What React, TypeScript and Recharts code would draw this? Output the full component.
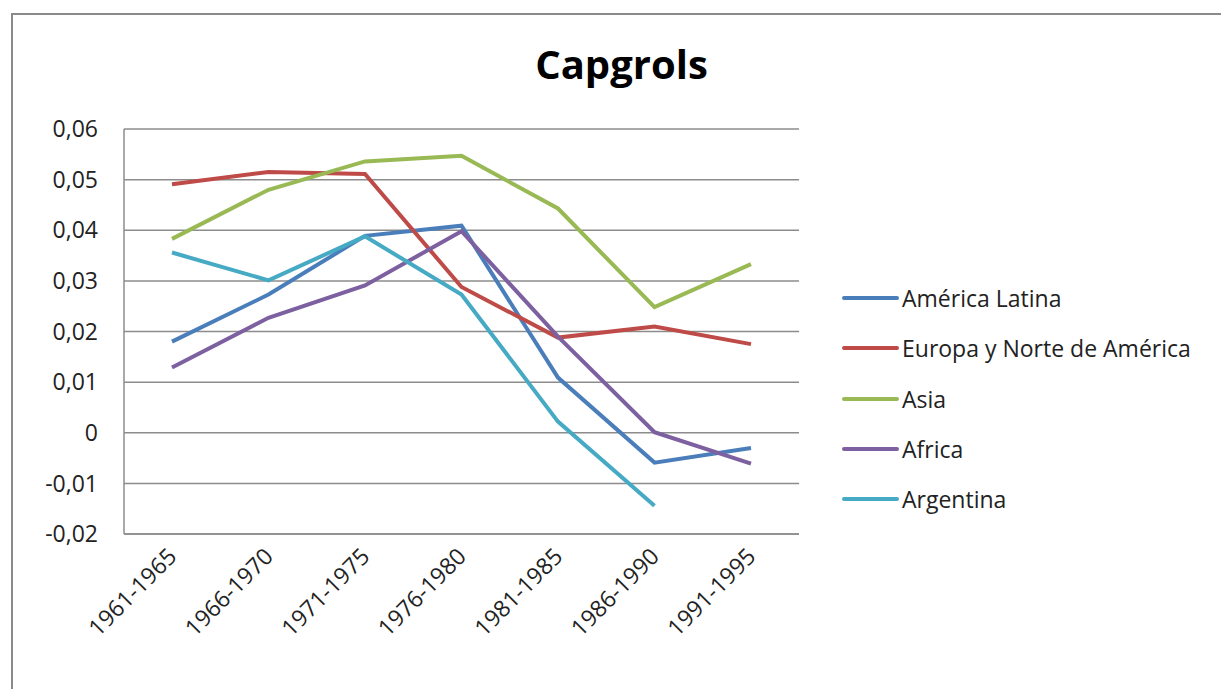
import { LineChart, Line, XAxis, YAxis, CartesianGrid } from 'recharts';

const periods = ['1961-1965', '1966-1970', '1971-1975', '1976-1980', '1981-1985', '1986-1990', '1991-1995'];

const americaLatina = [0.018, 0.0273, 0.0389, 0.0409, 0.0109, -0.0059, -0.003];
const europaNorteAmerica = [0.0491, 0.0515, 0.0511, 0.0288, 0.0188, 0.021, 0.0175];
const asia = [0.0383, 0.048, 0.0536, 0.0547, 0.0443, 0.0248, 0.0333];
const africa = [0.0129, 0.0227, 0.0291, 0.0398, 0.019, 0.0001, -0.0061];
const argentina = [0.0356, 0.0301, 0.0388, 0.0273, 0.0022, -0.0144, null];

const yTicks = [-0.02, -0.01, 0, 0.01, 0.02, 0.03, 0.04, 0.05, 0.06];

const series = [
  { key: 'latina', name: 'América Latina', values: americaLatina, color: '#4a7ebb' },
  { key: 'europa', name: 'Europa y Norte de América', values: europaNorteAmerica, color: '#be4b48' },
  { key: 'asia', name: 'Asia', values: asia, color: '#98b954' },
  { key: 'africa', name: 'Africa', values: africa, color: '#7d60a0' },
  { key: 'argentina', name: 'Argentina', values: argentina, color: '#46aac5' },
];

const data = periods.map((period, i) => {
  const row: Record<string, string | number | null> = { period };
  series.forEach((s) => {
    row[s.key] = s.values[i];
  });
  return row;
});

const FONT = '"Open Sans", Lato, sans-serif';

const formatTick = (v: number) => (v === 0 ? '0' : v.toFixed(2).replace('.', ','));

function PeriodTick({ x, y, payload }: any) {
  return (
    <text
      x={x + 6}
      y={y + 16}
      transform={`rotate(-45, ${x + 6}, ${y + 16})`}
      textAnchor="end"
      fontSize={23}
      fontFamily={FONT}
      fill="#222"
    >
      {payload.value}
    </text>
  );
}

export default function App() {
  return (
    <div
      style={{
        position: 'fixed',
        left: 0,
        top: 0,
        width: 1221,
        height: 689,
        background: '#fff',
        overflow: 'hidden',
      }}
    >
      <div
        style={{
          position: 'absolute',
          left: 11,
          top: 13,
          width: 1300,
          height: 800,
          borderLeft: '2px solid #8a8a8a',
          borderTop: '2px solid #8a8a8a',
        }}
      />
      <div
        style={{
          position: 'absolute',
          left: 0,
          width: 1221,
          top: 36,
          textAlign: 'center',
          paddingLeft: 22,
          boxSizing: 'border-box',
          fontFamily: FONT,
          fontWeight: 700,
          fontSize: 40,
          color: '#000',
        }}
      >
        Capgrols
      </div>
      <div style={{ position: 'absolute', left: 0, top: 0 }}>
        <LineChart
          width={1221}
          height={689}
          data={data}
          margin={{ top: 129, right: 422, bottom: 35, left: 0 }}
        >
          <CartesianGrid vertical={false} stroke="#8c8c8c" strokeWidth={1.5} />
          <XAxis
            dataKey="period"
            padding={{ left: 48, right: 48 }}
            axisLine={{ stroke: '#8c8c8c', strokeWidth: 1.5 }}
            tickLine={false}
            height={120}
            interval={0}
            tick={<PeriodTick />}
          />
          <YAxis
            domain={[-0.02, 0.06]}
            ticks={yTicks}
            interval={0}
            width={124}
            tickFormatter={formatTick}
            tickLine={false}
            tickSize={0}
            tickMargin={26}
            axisLine={{ stroke: '#8c8c8c', strokeWidth: 1.5 }}
            tick={{ fontSize: 23, fontFamily: FONT, fill: '#222' }}
          />
          {series.map((s) => (
            <Line
              key={s.key}
              dataKey={s.key}
              name={s.name}
              stroke={s.color}
              strokeWidth={4}
              dot={false}
              activeDot={false}
              isAnimationActive={false}
            />
          ))}
        </LineChart>
      </div>
      <div
        style={{
          position: 'absolute',
          left: 842,
          top: 273,
          fontFamily: FONT,
          fontSize: 23,
          color: '#222',
        }}
      >
        {series.map((s) => (
          <div key={s.key} style={{ display: 'flex', alignItems: 'center', height: 50.3 }}>
            <span
              style={{
                display: 'inline-block',
                width: 57,
                height: 4,
                borderRadius: 2,
                background: s.color,
                marginRight: 3,
              }}
            />
            <span>{s.name}</span>
          </div>
        ))}
      </div>
    </div>
  );
}
